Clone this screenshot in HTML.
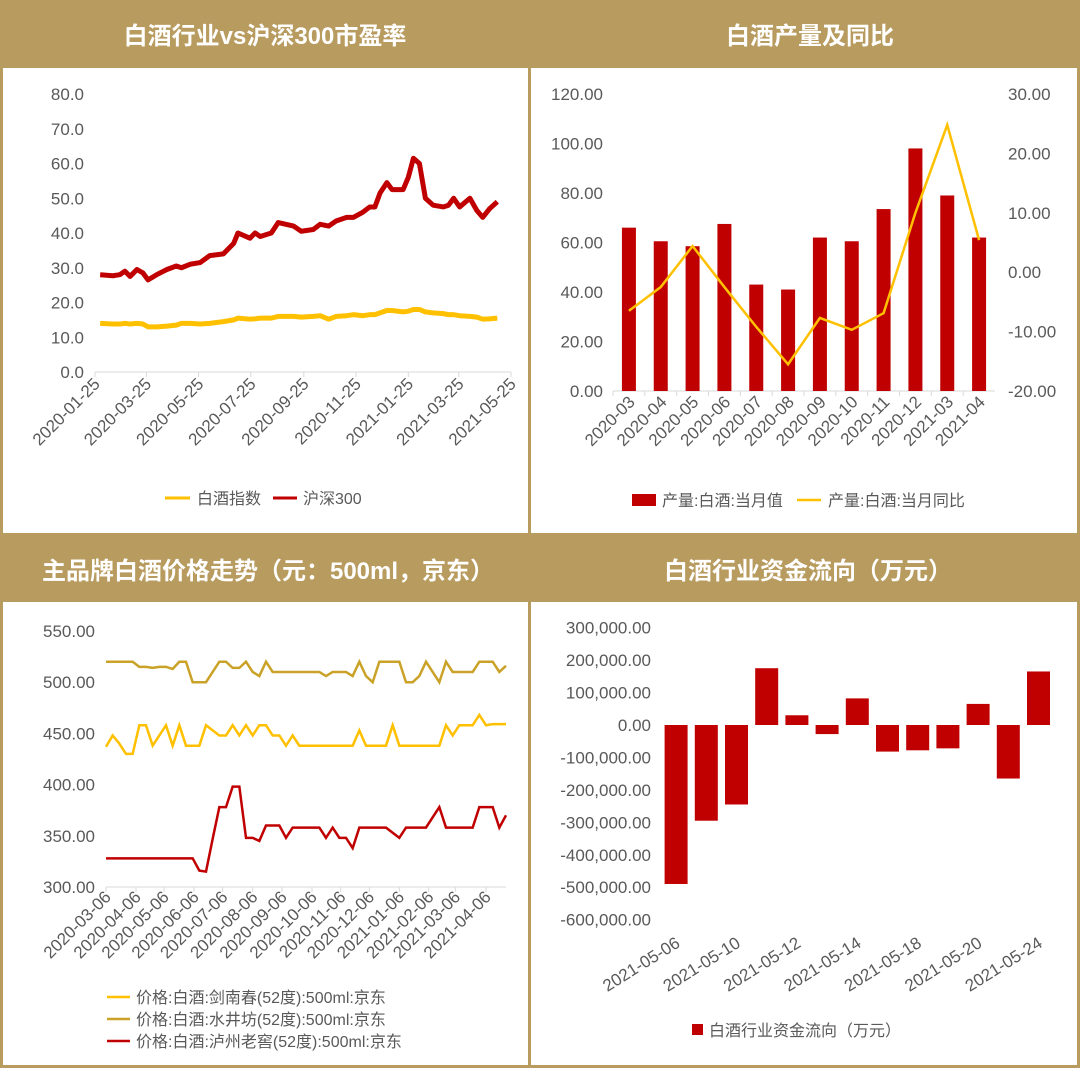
<!DOCTYPE html>
<html><head><meta charset="utf-8"><style>
html,body{margin:0;padding:0;background:#fff;}
svg{display:block;font-family:"Liberation Sans","Noto Sans CJK SC",sans-serif;}
.t{fill:#595959;font-size:17px;}
.h{fill:#fff;font-size:24px;font-weight:bold;}
.lg{fill:#595959;font-size:16px;}
</style></head><body>
<svg id="s" width="1080" height="1068" viewBox="0 0 1080 1068" xmlns="http://www.w3.org/2000/svg">
<rect x="0" y="0" width="1080" height="1068" fill="#fff"/>
<g fill="#b89b5e">
<rect x="0" y="0" width="1080" height="68"/>
<rect x="0" y="533" width="1080" height="69"/>
<rect x="0" y="0" width="3" height="1068"/>
<rect x="1077" y="0" width="3" height="1068"/>
<rect x="528" y="0" width="3" height="1068"/>
<rect x="0" y="1065" width="1080" height="3"/>
</g>
<text class="h" x="265" y="44" text-anchor="middle">白酒行业vs沪深300市盈率</text>
<text class="h" x="810" y="44" text-anchor="middle">白酒产量及同比</text>
<text class="h" x="268" y="579" text-anchor="middle">主品牌白酒价格走势（元：500ml，京东）</text>
<text class="h" x="808" y="579" text-anchor="middle">白酒行业资金流向（万元）</text>
<g id="c1"></g>
<g id="c2"></g>
<g id="c3"></g>
<g id="c4"></g>
</svg>
<script>
// Chart 1 data
const peDays=[6,21,29,35,41,49,56,62,72,84,95,101,111,123,134,150,162,167,181,187,193,206,214,232,241,255,263,273,282,294,302,313,321,327,333,341,347,360,366,372,379,386,395,407,413,419,426,438,446,453,461,470];
const peHs300=[28,27.7,28,29,27.5,29.5,28.5,26.5,28,29.5,30.5,30,31,31.5,33.5,34,37,40,38.5,40,39,40,43,42,40.5,41,42.5,42,43.5,44.5,44.5,46,47.5,47.5,51.5,54.5,52.5,52.5,56,61.5,60,50,48,47.5,48,50,47.5,50,46.5,44.5,47,49];
const peBaijiu=[14,13.8,13.8,14,13.8,14,13.8,13,13,13.2,13.5,14,14,13.8,14,14.5,15,15.5,15.2,15.3,15.5,15.5,16,16,15.8,16,16.2,15.2,16,16.2,16.5,16.2,16.5,16.5,17,17.7,17.7,17.3,17.5,18,18,17.3,17,16.8,16.5,16.5,16.2,16,15.8,15.2,15.3,15.5];
const peTicks=[0,10,20,30,40,50,60,70,80];
const peDateLabels=["2020-01-25","2020-03-25","2020-05-25","2020-07-25","2020-09-25","2020-11-25","2021-01-25","2021-03-25","2021-05-25"];
const peDateDays=[0,60,121,182,244,305,366,425,486];
// Chart 2 data
const outCats=["2020-03","2020-04","2020-05","2020-06","2020-07","2020-08","2020-09","2020-10","2020-11","2020-12","2021-03","2021-04"];
const outVals=[66,60.5,58.5,67.5,43,41,62,60.5,73.5,98,79,62];
const outYoy=[-6.5,-2.5,4.4,-2.5,-9.2,-15.5,-7.7,-9.7,-6.9,10,24.8,5.4];
const outLTicks=[0,20,40,60,80,100,120];
const outRTicks=[-20,-10,0,10,20,30];
// Chart 3 data
const prJnc=[437,448,440,430,430,458,458,438,448,458,438,458,438,438,438,458,453,448,448,458,448,458,448,458,458,448,448,438,448,438,438,438,438,438,438,438,438,438,453,438,438,438,438,458,438,438,438,438,438,438,438,458,448,458,458,458,468,458,459,459,459];
const prSjf=[520,520,520,520,520,515,515,514,515,515,513,520,520,500,500,500,510,520,520,514,514,520,510,506,520,510,510,510,510,510,510,510,510,506,510,510,510,506,520,506,500,520,520,520,520,500,500,506,520,510,500,520,510,510,510,510,520,520,520,510,516];
const prLzlj=[328,328,328,328,328,328,328,328,328,328,328,328,328,328,316,315,347,378,378,398,398,348,348,345,360,360,360,348,358,358,358,358,358,348,358,348,348,338,358,358,358,358,358,353,348,358,358,358,358,368,378,358,358,358,358,358,378,378,378,358,370];
const prTicks=[300,350,400,450,500,550];
const prDateLabels=["2020-03-06","2020-04-06","2020-05-06","2020-06-06","2020-07-06","2020-08-06","2020-09-06","2020-10-06","2020-11-06","2020-12-06","2021-01-06","2021-02-06","2021-03-06","2021-04-06"];
const prDateIdx=[0,4.5,8.7,13.2,17.5,22,26.4,30.9,35.2,39.5,44,48.4,52.4,57];
// Chart 4 data
const ffCats=["2021-05-06","2021-05-07","2021-05-10","2021-05-11","2021-05-12","2021-05-13","2021-05-14","2021-05-17","2021-05-18","2021-05-19","2021-05-20","2021-05-21","2021-05-24"];
const ffVals=[-490000,-295000,-245000,175000,30000,-28000,82000,-82000,-78000,-72000,65000,-165000,165000];
const ffTicks=[-600000,-500000,-400000,-300000,-200000,-100000,0,100000,200000,300000];

const NS="http://www.w3.org/2000/svg";
function mk(p,tag,attrs,txt){const e=document.createElementNS(NS,tag);for(const k in attrs)e.setAttribute(k,attrs[k]);if(txt!==undefined)e.textContent=txt;p.appendChild(e);return e;}
function fmt2(v){return v.toFixed(2);}
function fmtK(v){const s=Math.abs(v).toLocaleString('en-US')+'.00';return (v<0?'-':'')+s;}

// ---- Chart 1
(function(){
const g=document.getElementById('c1');
const x=d=>95+d*(416/486), y=v=>372-v*(278/80);
peTicks.forEach(v=>{const t=mk(g,'text',{class:'t',x:84,y:y(v)+6,'text-anchor':'end'},v.toFixed(1));

});
const ax=mk(g,'line',{x1:95,x2:511,y1:372,y2:372,stroke:'#d9d9d9','stroke-width':1});


peDateDays.forEach((d,i)=>{mk(g,'line',{x1:x(d),x2:x(d),y1:372,y2:377,stroke:'#d9d9d9'});
const t=mk(g,'text',{class:'t',x:x(d)+6,y:385,'text-anchor':'end',transform:`rotate(-45 ${x(d)+6} 385)`},peDateLabels[i]);

});
function line(vals,col,name){const p=mk(g,'polyline',{points:vals.map((v,i)=>x(peDays[i])+','+y(v)).join(' '),fill:'none',stroke:col,'stroke-width':5,'stroke-linejoin':'round'});

}
line(peBaijiu,'#ffc000','baijiu-index-line');
line(peHs300,'#c00000','hs300-line');
mk(g,'line',{x1:165,x2:190,y1:498,y2:498,stroke:'#ffc000','stroke-width':3});
const l1=mk(g,'text',{class:'lg',x:197,y:504},'白酒指数');


mk(g,'line',{x1:273,x2:297,y1:498,y2:498,stroke:'#c00000','stroke-width':3});
const l2=mk(g,'text',{class:'lg',x:303,y:504},'沪深300');


})();

// ---- Chart 2
(function(){
const g=document.getElementById('c2');
const x0=613,x1=995,cw=(x1-x0)/outCats.length;
const cx=i=>x0+cw*(i+0.5), yl=v=>391-v*(297/120), yr=v=>391-(v+20)*(297/50);
outLTicks.forEach(v=>{const t=mk(g,'text',{class:'t',x:603,y:yl(v)+6,'text-anchor':'end'},fmt2(v));

});
outRTicks.forEach(v=>{const t=mk(g,'text',{class:'t',x:1008,y:yr(v)+6},fmt2(v));

});
mk(g,'line',{x1:x0,x2:x1,y1:391,y2:391,stroke:'#d9d9d9'});
outCats.forEach((c,i)=>{mk(g,'line',{x1:x0+cw*i,x2:x0+cw*i,y1:391,y2:396,stroke:'#d9d9d9'});
const b=mk(g,'rect',{x:cx(i)-7,y:yl(outVals[i]),width:14,height:391-yl(outVals[i]),fill:'#c00000'});


const t=mk(g,'text',{class:'t',x:cx(i)+7,y:403,'text-anchor':'end',transform:`rotate(-45 ${cx(i)+7} 403)`},c);

});
const p=mk(g,'polyline',{points:outYoy.map((v,i)=>cx(i)+','+yr(v)).join(' '),fill:'none',stroke:'#ffc000','stroke-width':2.5});


mk(g,'rect',{x:632,y:494,width:24,height:12,fill:'#c00000'});
const l1=mk(g,'text',{class:'lg',x:662,y:506},'产量:白酒:当月值');


mk(g,'line',{x1:797,x2:821,y1:500,y2:500,stroke:'#ffc000','stroke-width':2.5});
const l2=mk(g,'text',{class:'lg',x:828,y:506},'产量:白酒:当月同比');


})();

// ---- Chart 3
(function(){
const g=document.getElementById('c3');
const x=i=>106+i*(400/60), y=v=>887-(v-300)*(256/250);
prTicks.forEach(v=>{const t=mk(g,'text',{class:'t',x:95,y:y(v)+6,'text-anchor':'end'},fmt2(v));

});
mk(g,'line',{x1:106,x2:506,y1:887,y2:887,stroke:'#d9d9d9'});
prDateIdx.forEach((d,i)=>{mk(g,'line',{x1:x(d),x2:x(d),y1:887,y2:892,stroke:'#d9d9d9'});
const t=mk(g,'text',{class:'t',x:x(d)+6,y:898,'text-anchor':'end',transform:`rotate(-45 ${x(d)+6} 898)`},prDateLabels[i]);

});
function line(vals,col,name){const p=mk(g,'polyline',{points:vals.map((v,i)=>x(i)+','+y(v)).join(' '),fill:'none',stroke:col,'stroke-width':2.5});

}
line(prSjf,'#c9a227','shuijingfang-line');
line(prJnc,'#ffc000','jiannanchun-line');
line(prLzlj,'#c00000','luzhoulaojiao-line');
[['#ffc000','价格:白酒:剑南春(52度):500ml:京东',997],['#c9a227','价格:白酒:水井坊(52度):500ml:京东',1019],['#c00000','价格:白酒:泸州老窖(52度):500ml:京东',1041]].forEach(r=>{
mk(g,'line',{x1:107,x2:130,y1:r[2],y2:r[2],stroke:r[0],'stroke-width':2.5});
const t=mk(g,'text',{class:'lg',x:136,y:r[2]+6},r[1]);

});
})();

// ---- Chart 4
(function(){
const g=document.getElementById('c4');
const x0=661,cw=30.2, cx=i=>x0+cw*(i+0.5), y=v=>725-v*(292/900000);
ffTicks.forEach(v=>{const t=mk(g,'text',{class:'t',x:651,y:y(v)+6,'text-anchor':'end'},fmtK(v));

});
ffVals.forEach((v,i)=>{const b=mk(g,'rect',{x:cx(i)-11.5,y:Math.min(y(v),y(0)),width:23,height:Math.abs(y(v)-y(0)),fill:'#c00000'});


if(i%2===0){const t=mk(g,'text',{class:'t',x:cx(i)+5,y:946,'text-anchor':'end',transform:`rotate(-32 ${cx(i)+5} 946)`},ffCats[i]);

}});
mk(g,'rect',{x:692,y:1024,width:11,height:11,fill:'#c00000'});
const l=mk(g,'text',{class:'lg',x:709,y:1036},'白酒行业资金流向（万元）');


})();
</script>
</body></html>
